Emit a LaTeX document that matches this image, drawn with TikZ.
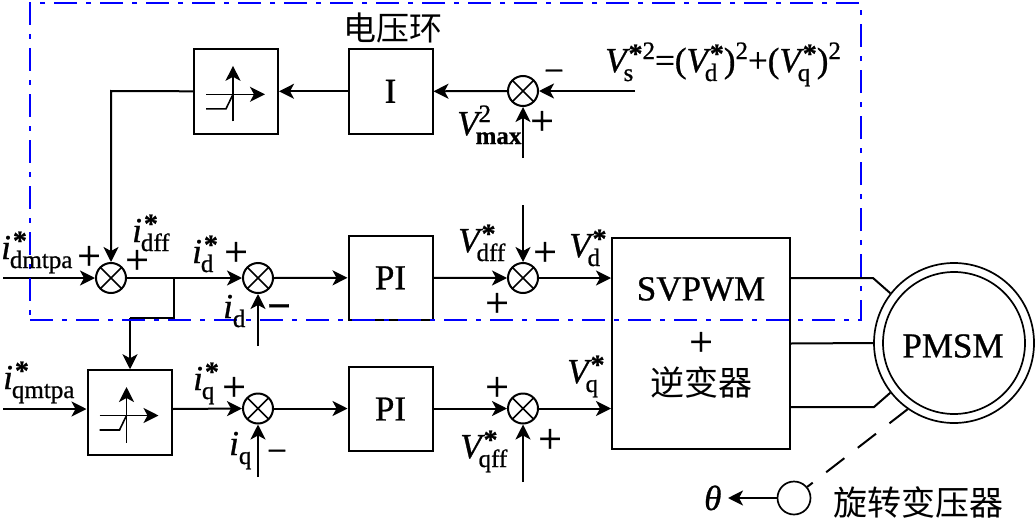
\documentclass[tikz,border=0pt]{standalone}
\usepackage{fontspec}
\setmainfont{Liberation Serif}[RawFeature={embolden=0.8}]
\newfontfamily\cjk{Noto Sans CJK SC}
\usetikzlibrary{arrows.meta}
\definecolor{loopblue}{RGB}{0,0,255}
% script and asterisk fonts for the signal labels
\newcommand\subf{\fontsize{25}{25}\selectfont}
\newcommand\st{\kern2pt\raise -2pt\hbox{\fontsize{28}{28}\selectfont\bfseries *}}
\newcommand\tw{\raise 2pt\hbox{\fontsize{25}{25}\selectfont 2}}
% \lab{base}{back-kern}{subscript}{superscript}
\newcommand\lab[4]{\mbox{\itshape #1}\kern-#2\relax
  \sbox0{\lower 9pt\hbox{\subf #3}}%
  \sbox2{\kern#2\relax\raise 11pt\hbox{#4}}%
  \ifdim\wd0>\wd2 \rlap{\box2}\box0\else\rlap{\box0}\box2\fi}
\tikzset{
  x=1pt,y=-1pt,
  every node/.style={font=\fontsize{35}{35}\selectfont,inner sep=0pt},
  wire/.style={line width=2pt},
  sig/.style={wire,-{Stealth[length=15pt,width=15pt,inset=4pt]}},
  blockbox/.style={draw,line width=2pt,minimum width=84pt,minimum height=84.5pt},
  sumj/.style={draw,circle,line width=2pt,minimum size=30pt,
    path picture={\draw[line width=1.7pt]
      (path picture bounding box.north west)--(path picture bounding box.south east)
      (path picture bounding box.north east)--(path picture bounding box.south west);}},
  lbl/.style={anchor=base west},
  sgn/.style={anchor=center,font=\fontsize{42}{42}\selectfont},
  cjklabel/.style={font=\cjk\fontsize{33}{33}\selectfont},
}
% saturation characteristic drawn around a block's centre
\newcommand\satcurve[1]{%
  \begin{scope}[shift={(#1.center)},line width=1.6pt]
    \draw[sig,line width=1.6pt] (-3,30)--(-3,-25.5);
    \draw[sig,line width=1.6pt] (-30,3)--(29,3);
    \draw (-30,17.5)--(-10,17.5)--(-3,3);
  \end{scope}}
\begin{document}
\begin{tikzpicture}
\useasboundingbox (0,0) rectangle (1035,519);

% blocks
\node[blockbox] (lim1) at (236,91.3) {};
\node[blockbox] (intg) at (390.5,91.3) {\raisebox{-2pt}{I}};
\node[blockbox] (lim2) at (129.5,412.5) {};
\node[blockbox] (pi1) at (390.5,277.8) {\raisebox{-3pt}{PI}};
\node[blockbox] (pi2) at (390.5,409) {\raisebox{-3pt}{PI}};
\node[draw,line width=2pt,minimum width=178pt,minimum height=211pt] (inv) at (701,343.5) {};
\satcurve{lim1}
\satcurve{lim2}

% summing junctions
\node[sumj] (sumv) at (523,91) {};
\node[sumj] (sum0) at (111,278) {};
\node[sumj] (sumd) at (258,278) {};
\node[sumj] (sumvd) at (523,278) {};
\node[sumj] (sumq) at (258,408.5) {};
\node[sumj] (sumvq) at (523,408.5) {};

% motor and resolver
\node[draw,circle,line width=1.7pt,minimum size=160pt] (motor) at (954,343) {};
\node[draw,circle,line width=1.7pt,minimum size=142pt] (stator) at (954,343) {};
\node (pmsm) at (953,346) {PMSM};
\node[draw,circle,line width=1.7pt,minimum size=33pt] (res) at (794,498) {};

% free ends and bends
\coordinate (vsin) at (635,91);
\coordinate (vmaxin) at (523,158);
\coordinate (bendA) at (111,91);
\coordinate (d0in) at (3,278);
\coordinate (branch) at (174,278);
\coordinate (branchB) at (174,318);
\coordinate (branchC) at (130,318);
\coordinate (idin) at (258,346);
\coordinate (iqin) at (258,477);
\coordinate (q0in) at (3,409);
\coordinate (vdffin) at (523,205);
\coordinate (vqffin) at (523,482);
\coordinate (invD) at (790,278);
\coordinate (invQ) at (790,407);
\coordinate (kneeD) at (873,278);
\coordinate (kneeQ) at (874,407);
\coordinate (thetaend) at (728,498);

% voltage loop
\draw[sig] (vsin)--(sumv.east);
\draw[sig] (vmaxin)--(sumv.south);
\draw[sig] (sumv.west)--(intg.east);
\draw[sig] (intg.west)--(lim1.east);
\draw[sig] (lim1.west)--(bendA)--(sum0.north);

% current loops
\draw[sig] (d0in)--(sum0.west);
\draw[sig] (sum0.east)--(sumd.west);
\draw[wire] (branch)--(branchB)--(branchC);
\draw[sig] (branchC)--(branchC |- lim2.north);
\draw[sig] (idin)--(sumd.south);
\draw[sig] (sumd.east)--(pi1.west);
\draw[sig] (pi1.east)--(sumvd.west);
\draw[sig] (vdffin)--(sumvd.north);
\draw[sig] (sumvd.east)--(sumvd -| inv.west);
\draw[sig] (q0in)--(q0in -| lim2.west);
\draw[sig] (q0in -| lim2.east)--(sumq.west);
\draw[sig] (iqin)--(sumq.south);
\draw[sig] (sumq.east)--(sumq -| pi2.west);
\draw[sig] (sumq -| pi2.east)--(sumvq.west);
\draw[sig] (vqffin)--(sumvq.south);
\draw[sig] (sumvq.east)--(sumvq -| inv.west);

% phase wires and position feedback
\draw[wire] (invD)--(kneeD)--(motor.142);
\draw[wire] (inv.east)--(motor.west);
\draw[wire] (invQ)--(kneeQ)--(motor.218);
\draw[wire,dash pattern=on 23pt off 17pt] (motor.235)--(res.40);
\draw[sig] (res.west)--(thetaend);

% outer boundary of the voltage loop
\node[draw=loopblue,line width=2.2pt,dash pattern=on 23pt off 9pt on 5pt off 9pt,
  minimum width=831pt,minimum height=317pt] (vloop) at (445.5,161.5) {};

% block captions
\node[cjklabel] (loopname) at (393,28) {电压环};
\node (svpwm) at (701,289) {SVPWM};
\node[sgn] (plus) at (701,344) {+};
\node[cjklabel,font=\cjk\fontsize{34}{34}\selectfont] (invname) at (701,382) {逆变器};
\node[cjklabel,font=\cjk\fontsize{34}{34}\selectfont] (resname) at (918,502) {旋转变压器};
\node[lbl] (theta) at (704,510) {\itshape θ};

% signal labels
\node[lbl] (t1) at (1,259) {\lab{i}{1pt}{dmtpa}{\st}};
\node[lbl] (t2) at (132,242) {\lab{i}{1pt}{dff}{\st}};
\node[lbl] (t3) at (192,263) {\lab{i}{1pt}{d}{\st}};
\node[lbl] (t4) at (223,318) {\lab{i}{0pt}{d}{}};
\node[lbl] (t5) at (3,389) {\lab{i}{1pt}{qmtpa}{\st}};
\node[lbl] (t6) at (193,390) {\lab{i}{1pt}{q}{\st}};
\node[lbl] (t7) at (229,455) {\lab{i}{0pt}{q}{}};
\node[lbl] (t8) at (458,252) {\lab{V}{3pt}{dff}{\st}};
\node[lbl] (t9) at (569,257) {\lab{V}{3pt}{d}{\st}};
\node[lbl] (t10) at (460,458) {\lab{V}{3pt}{qff}{\st}};
\node[lbl] (t11) at (567,383) {\lab{V}{3pt}{q}{\st}};
\node[lbl] (t12) at (457,135) {\lab{V}{3pt}{\bfseries max}{\tw}};
\node[lbl] (t13) at (605,72) {\lab{V}{3pt}{s}{\st\tw}=(\lab{V}{3pt}{d}{\st})\raise 11pt\hbox{\tw}+(\lab{V}{3pt}{q}{\st})\raise 11pt\hbox{\tw}};

% junction signs
\node[sgn] (p1) at (89,258) {+};
\node[sgn] (p2) at (137,262) {+};
\node[sgn] (p3) at (236,254) {+};
\node[sgn] (p4) at (497,305) {+};
\node[sgn] (p5) at (545,254) {+};
\node[sgn] (p6) at (234,389) {+};
\node[sgn] (p7) at (497,389) {+};
\node[sgn] (p8) at (550,441) {+};
\node[sgn] (p9) at (542,123) {+};
\node[sgn] (m1) at (279,312) {\bfseries −};
\node[sgn,font=\fontsize{35}{35}\selectfont] (m2) at (277,456) {−};
\node[sgn,font=\fontsize{35}{35}\selectfont] (m3) at (554,76) {−};
\end{tikzpicture}
\end{document}
